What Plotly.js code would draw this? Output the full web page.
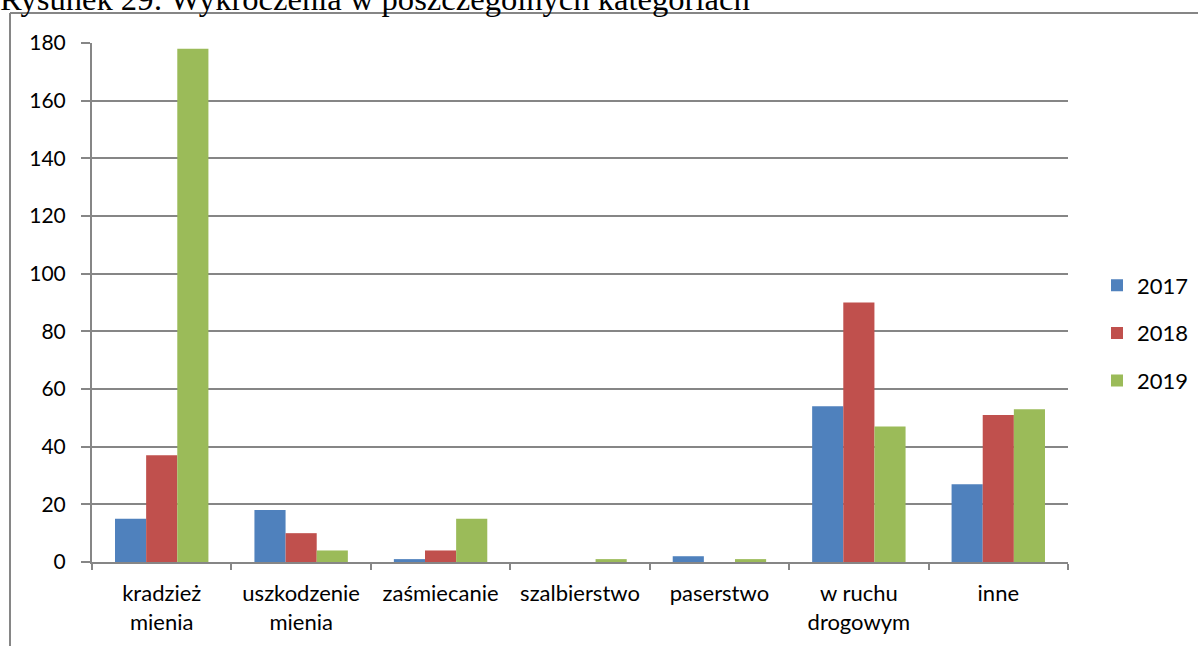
<!DOCTYPE html>
<html>
<head>
<meta charset="utf-8">
<script src="https://cdn.plot.ly/plotly-3.0.1.min.js"></script>
<style>
html,body{margin:0;padding:0;background:#fff;overflow:hidden;}
#chart{width:1198px;height:646px;}
</style>
</head>
<body>
<div id="chart"></div>
<script>
const categories = ["kradzież<br>mienia", "uszkodzenie<br>mienia", "zaśmiecanie", "szalbierstwo", "paserstwo", "w ruchu<br>drogowym", "inne"];
const seriesNames = ["2017", "2018", "2019"];
const values2017 = [15, 18, 1, 0, 2, 54, 27];
const values2018 = [37, 10, 4, 0, 0, 90, 51];
const values2019 = [178, 4, 15, 1, 1, 47, 53];
const colors = ["#4F81BD", "#C0504D", "#9BBB59"];
const yTicks = [0, 20, 40, 60, 80, 100, 120, 140, 160, 180];
const titleText = "Rysunek 29: Wykroczenia w poszczególnych kategoriach";

const allValues = [values2017, values2018, values2019];
const traces = allValues.map((v, i) => ({
  type: "bar",
  name: seriesNames[i],
  x: categories,
  y: v,
  marker: {color: colors[i], line: {width: 0}},
  legendgroup: "g" + i,
  hoverinfo: "x+y+name"
}));

const L = 92, R = 1068, T = 43, B = 562, W = 1198, H = 646;
const px = v => (v - L) / (R - L);
const py = v => (B - v) / (B - T);

const layout = {
  width: W, height: H,
  margin: {l: L, r: W - R, t: T, b: H - B, pad: 0, autoexpand: false},
  paper_bgcolor: "#ffffff",
  plot_bgcolor: "#ffffff",
  font: {family: "Lato, 'Open Sans', sans-serif", color: "#000000"},
  barmode: "group",
  bargap: 0.33,
  bargroupgap: 0,
  showlegend: true,
  legend: {
    x: px(1097), y: py(333), xanchor: "left", yanchor: "middle",
    font: {size: 22, family: "Lato, sans-serif", color: "#000"},
    traceorder: "grouped",
    tracegroupgap: 16,
    itemwidth: 30,
    bgcolor: "rgba(0,0,0,0)"
  },
  xaxis: {
    type: "category",
    showgrid: false,
    showline: true,
    linecolor: "#868686",
    linewidth: 2,
    ticks: "outside",
    tickson: "boundaries",
    ticklen: 6,
    tickwidth: 2,
    tickcolor: "#868686",
    tickfont: {size: 22, family: "Lato, sans-serif", color: "#000"},
    ticklabelstandoff: 11,
    automargin: false,
    fixedrange: true
  },
  yaxis: {
    range: [0, 180],
    tickvals: yTicks,
    ticktext: yTicks.map(String),
    showgrid: true,
    gridcolor: "#868686",
    gridwidth: 2,
    zeroline: false,
    showline: true,
    linecolor: "#868686",
    linewidth: 2,
    ticks: "outside",
    ticklen: 9,
    tickwidth: 2,
    tickcolor: "#868686",
    tickfont: {size: 21, family: "Lato, sans-serif", color: "#000"},
    ticklabelstandoff: 11,
    automargin: false,
    fixedrange: true
  },
  shapes: [
    {type: "line", xref: "paper", yref: "paper", x0: px(10), x1: px(1210), y0: py(13), y1: py(13), line: {color: "#868686", width: 2}},
    {type: "line", xref: "paper", yref: "paper", x0: px(10), x1: px(10), y0: py(13), y1: py(660), line: {color: "#868686", width: 2}}
  ],
  annotations: [
    {text: titleText, xref: "paper", yref: "paper", x: px(-1), y: py(18), xanchor: "left", yanchor: "bottom",
     showarrow: false, font: {family: "'Liberation Serif', 'Times New Roman', serif", size: 32.6, color: "#000"}, borderpad: 0}
  ]
};

Plotly.newPlot("chart", traces, layout, {displayModeBar: false, staticPlot: true});
</script>
</body>
</html>
